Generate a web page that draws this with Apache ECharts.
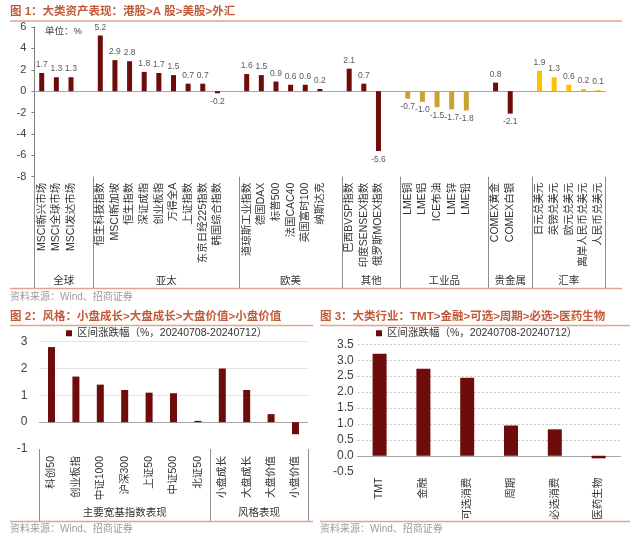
<!DOCTYPE html>
<html><head><meta charset="utf-8">
<script src="https://cdn.jsdelivr.net/npm/echarts/dist/echarts.min.js"></script>
<style>html,body{margin:0;padding:0;background:#fff}#c{width:640px;height:545px}</style>
</head><body><div id="c"></div>
<script>
// ---------- Figure 1 data ----------
const f1Groups = ['全球','亚太','欧美','其他','工业品','贵金属','汇率'];
const f1Cats = [
  ['MSCI新兴市场','MSCI全球市场','MSCI发达市场'],
  ['恒生科技指数','MSCI新加坡','恒生指数','深证成指','创业板指','万得全A','上证指数','东京日经225指数','韩国综合指数'],
  ['道琼斯工业指数','德国DAX','标普500','法国CAC40','英国富时100','纳斯达克'],
  ['巴西BVSP指数','印度SENSEX指数','俄罗斯MOEX指数'],
  ['LME铜','LME铝','ICE布油','LME锌','LME铅'],
  ['COMEX黄金','COMEX白银'],
  ['日元兑美元','英镑兑美元','欧元兑美元','离岸人民币兑美元','人民币兑美元']
];
const f1Vals = [
  [1.7,1.3,1.3],
  [5.2,2.9,2.8,1.8,1.7,1.5,0.7,0.7,-0.2],
  [1.6,1.5,0.9,0.6,0.6,0.2],
  [2.1,0.7,-5.6],
  [-0.7,-1.0,-1.5,-1.7,-1.8],
  [0.8,-2.1],
  [1.9,1.3,0.6,0.2,0.1]
];
const f1YTicks = [-8,-6,-4,-2,0,2,4,6];

// ---------- Figure 2 data ----------
const f2Groups = ['主要宽基指数表现','风格表现'];
const f2Cats = [
  ['科创50','创业板指','中证1000','沪深300','上证50','中证500','北证50'],
  ['小盘成长','大盘成长','大盘价值','小盘价值']
];
const f2Vals = [
  [2.8,1.7,1.4,1.2,1.1,1.08,0.05],
  [2.0,1.2,0.3,-0.45]
];

// ---------- Figure 3 data ----------
const f3Cats = ['TMT','金融','可选消费','周期','必选消费','医药生物'];
const f3Vals = [3.2,2.73,2.45,0.95,0.83,-0.08];

const LEG = '区间涨跌幅（%，20240708-20240712）';
const titles = [
  '图 1：大类资产表现：港股>A 股>美股>外汇',
  '图 2：风格：小盘成长>大盘成长>大盘价值>小盘价值',
  '图 3：大类行业：TMT>金融>可选>周期>必选>医药生物'
];
const SOURCE = '资料来源：Wind、招商证券';

// ---------- styling ----------
const FONT = '"Liberation Sans", Arial, "Noto Sans CJK SC", sans-serif';
const RED = '#6E0B0B', TAN = '#C9A232', YEL = '#FFC000';
const TITLE_C = '#C25A3A', RULE_C = '#E2A48C', TXT = '#333333';
const f1Colors = [RED, RED, RED, RED, TAN, RED, YEL];

// build figure 1 flat category list (with a blank slot after each group)
const x1 = [], d1 = [], f1Start = [];
f1Groups.forEach((g, gi) => {
  f1Start.push(x1.length);
  f1Cats[gi].forEach((c, ci) => {
    const v = f1Vals[gi][ci];
    x1.push(c);
    d1.push({value: v, itemStyle: {color: f1Colors[gi]}, label: {position: v < 0 ? 'bottom' : 'top'}});
  });
  if (gi < f1Groups.length - 1) { x1.push(' '.repeat(gi + 1)); d1.push('-'); }
});
// figure 2 flat
const x2 = [], d2 = [], f2Start = [];
f2Groups.forEach((g, gi) => {
  f2Start.push(x2.length);
  f2Cats[gi].forEach((c, ci) => { x2.push(c); d2.push(f2Vals[gi][ci]); });
});

const chart = echarts.init(document.getElementById('c'), null, {renderer: 'canvas'});
const hiddenCat = (grid, data, line) => ({
  gridIndex: grid, type: 'category', data: data, position: 'top',
  axisLine: {show: true, onZero: true, lineStyle: {color: line}},
  axisTick: {show: false}, axisLabel: {show: false}
});
const labelCat = (grid, data, margin, size) => ({
  gridIndex: grid, type: 'category', data: data, position: 'bottom',
  axisLine: {show: false, onZero: false}, axisTick: {show: false},
  axisLabel: {rotate: 90, interval: 0, fontSize: size, color: TXT, margin: margin, fontFamily: FONT}
});

const option = {
  animation: false,
  textStyle: {fontFamily: FONT},
  grid: [
    {left: 34.4, top: 27, width: 571, height: 149.7},
    {left: 39.3, top: 341.7, width: 268.4, height: 107.3},
    {left: 357.7, top: 344.3, width: 262.8, height: 127.4}
  ],
  legend: [
    {data: [LEG], left: 66, top: 328, padding: 0, itemWidth: 6, itemHeight: 6, icon: 'rect',
     textStyle: {fontSize: 10.5, color: TXT, fontFamily: FONT}},
    {data: [LEG], left: 376, top: 328, padding: 0, itemWidth: 6, itemHeight: 6, icon: 'rect',
     textStyle: {fontSize: 10.5, color: TXT, fontFamily: FONT}}
  ],
  xAxis: [
    hiddenCat(0, x1, '#A6A6A6'),
    labelCat(0, x1, 6, 10.5),
    hiddenCat(1, x2, '#A6A6A6'),
    labelCat(1, x2, 7, 10.5),
    hiddenCat(2, f3Cats, '#A6A6A6'),
    labelCat(2, f3Cats, 6, 10.5)
  ],
  yAxis: [
    {gridIndex: 0, type: 'value', min: f1YTicks[0], max: f1YTicks[f1YTicks.length - 1], interval: 2,
     axisLine: {show: true, lineStyle: {color: '#808080'}},
     axisTick: {show: true, length: 3, lineStyle: {color: '#808080'}},
     axisLabel: {fontSize: 11, color: '#404040', margin: 8},
     splitLine: {show: false}},
    {gridIndex: 1, type: 'value', min: -1, max: 3, interval: 1,
     axisLine: {show: false}, axisTick: {show: false},
     axisLabel: {fontSize: 12, color: '#404040', margin: 12},
     splitLine: {show: true, lineStyle: {color: ['rgba(0,0,0,0)', '#D9D9D9', '#E4E4E4', '#E4E4E4', '#E4E4E4'], width: 1}}},
    {gridIndex: 2, type: 'value', min: -0.5, max: 3.5, interval: 0.5,
     axisLine: {show: false}, axisTick: {show: false},
     axisLabel: {fontSize: 12, color: '#404040', margin: 4, formatter: v => v.toFixed(1)},
     splitLine: {show: true, lineStyle: {type: [2, 2], color: ['rgba(0,0,0,0)', '#C8C8C8', '#C8C8C8', '#C8C8C8', '#C8C8C8', '#C8C8C8', '#C8C8C8', '#C8C8C8', '#C8C8C8']}}}
  ],
  series: [
    {name: 'f1', type: 'bar', xAxisIndex: 0, yAxisIndex: 0, data: d1, barWidth: 5,
     label: {show: true, fontSize: 8.5, color: '#595959', distance: 4, formatter: p => Number(p.value).toFixed(1)}},
    {name: LEG, type: 'bar', xAxisIndex: 2, yAxisIndex: 1, data: d2, barWidth: 7, itemStyle: {color: RED}},
    {name: LEG, type: 'bar', xAxisIndex: 4, yAxisIndex: 2, data: f3Vals, barWidth: 14, itemStyle: {color: RED}}
  ]
};
chart.setOption(option);

// ---------- decorations ----------
const G = [];
const txt = (t, x, y, opt) => G.push({type: 'text', silent: true, style: Object.assign({
  text: t, x: x, y: y, fill: TXT, font: '10.5px ' + FONT, textAlign: 'left', textVerticalAlign: 'middle',
  align: 'left', verticalAlign: 'middle'}, opt || {})});
const ln = (x1_, y1_, x2_, y2_, c, w) => G.push({type: 'line', silent: true,
  shape: {x1: x1_, y1: y1_, x2: x2_, y2: y2_}, style: {stroke: c, lineWidth: w || 1}});

// titles + rules
const tFont = 'bold 11.5px ' + FONT;
txt(titles[0], 10, 12, {fill: TITLE_C, font: tFont});
ln(10, 21, 622, 21, RULE_C, 1.5);
txt(titles[1], 10, 317, {fill: TITLE_C, font: tFont});
ln(10, 325.5, 313, 325.5, RULE_C, 1.5);
txt(titles[2], 320, 317, {fill: TITLE_C, font: tFont});
ln(320, 325.5, 630, 325.5, RULE_C, 1.5);
txt('单位：%', 45, 31, {font: '9.5px ' + FONT, fill: '#404040'});

// figure 1 group separators and labels
const px = (ai, i) => chart.convertToPixel({xAxisIndex: ai}, i);
const yBot1 = chart.convertToPixel({yAxisIndex: 0}, f1YTicks[0]);
const b1 = px(0, 1) - px(0, 0);
const bounds1 = f1Start.map(s => px(0, s) - b1 / 2);
bounds1.push(px(0, x1.length - 1) + b1 / 2);
bounds1.forEach(x => ln(Math.round(x) + 0.5, yBot1, Math.round(x) + 0.5, 288, '#8C8C8C', 1));
f1Groups.forEach((g, gi) => txt(g, (bounds1[gi] + bounds1[gi + 1]) / 2, 281, {textAlign: 'center', align: 'center'}));
ln(10, 288.5, 622, 288.5, RULE_C, 1.5);
txt(SOURCE, 10, 297, {fill: '#9A9A9A', font: '10px ' + FONT});

// figure 2 group separators and labels
const yBot2 = chart.convertToPixel({yAxisIndex: 1}, -1);
const b2 = px(2, 1) - px(2, 0);
const bounds2 = f2Start.map(s => px(2, s) - b2 / 2);
bounds2.push(px(2, x2.length - 1) + b2 / 2);
bounds2.forEach(x => ln(Math.round(x) + 0.5, yBot2, Math.round(x) + 0.5, 521, '#8C8C8C', 1));
f2Groups.forEach((g, gi) => txt(g, (bounds2[gi] + bounds2[gi + 1]) / 2, 513, {textAlign: 'center', align: 'center'}));
ln(10, 521.5, 313, 521.5, RULE_C, 1.5);
txt(SOURCE, 10, 529, {fill: '#9A9A9A', font: '10px ' + FONT});

// figure 3 frame
ln(320, 521.5, 630, 521.5, RULE_C, 1.5);
txt(SOURCE, 320, 529, {fill: '#9A9A9A', font: '10px ' + FONT});

chart.setOption({graphic: {elements: G}});
</script></body></html>
